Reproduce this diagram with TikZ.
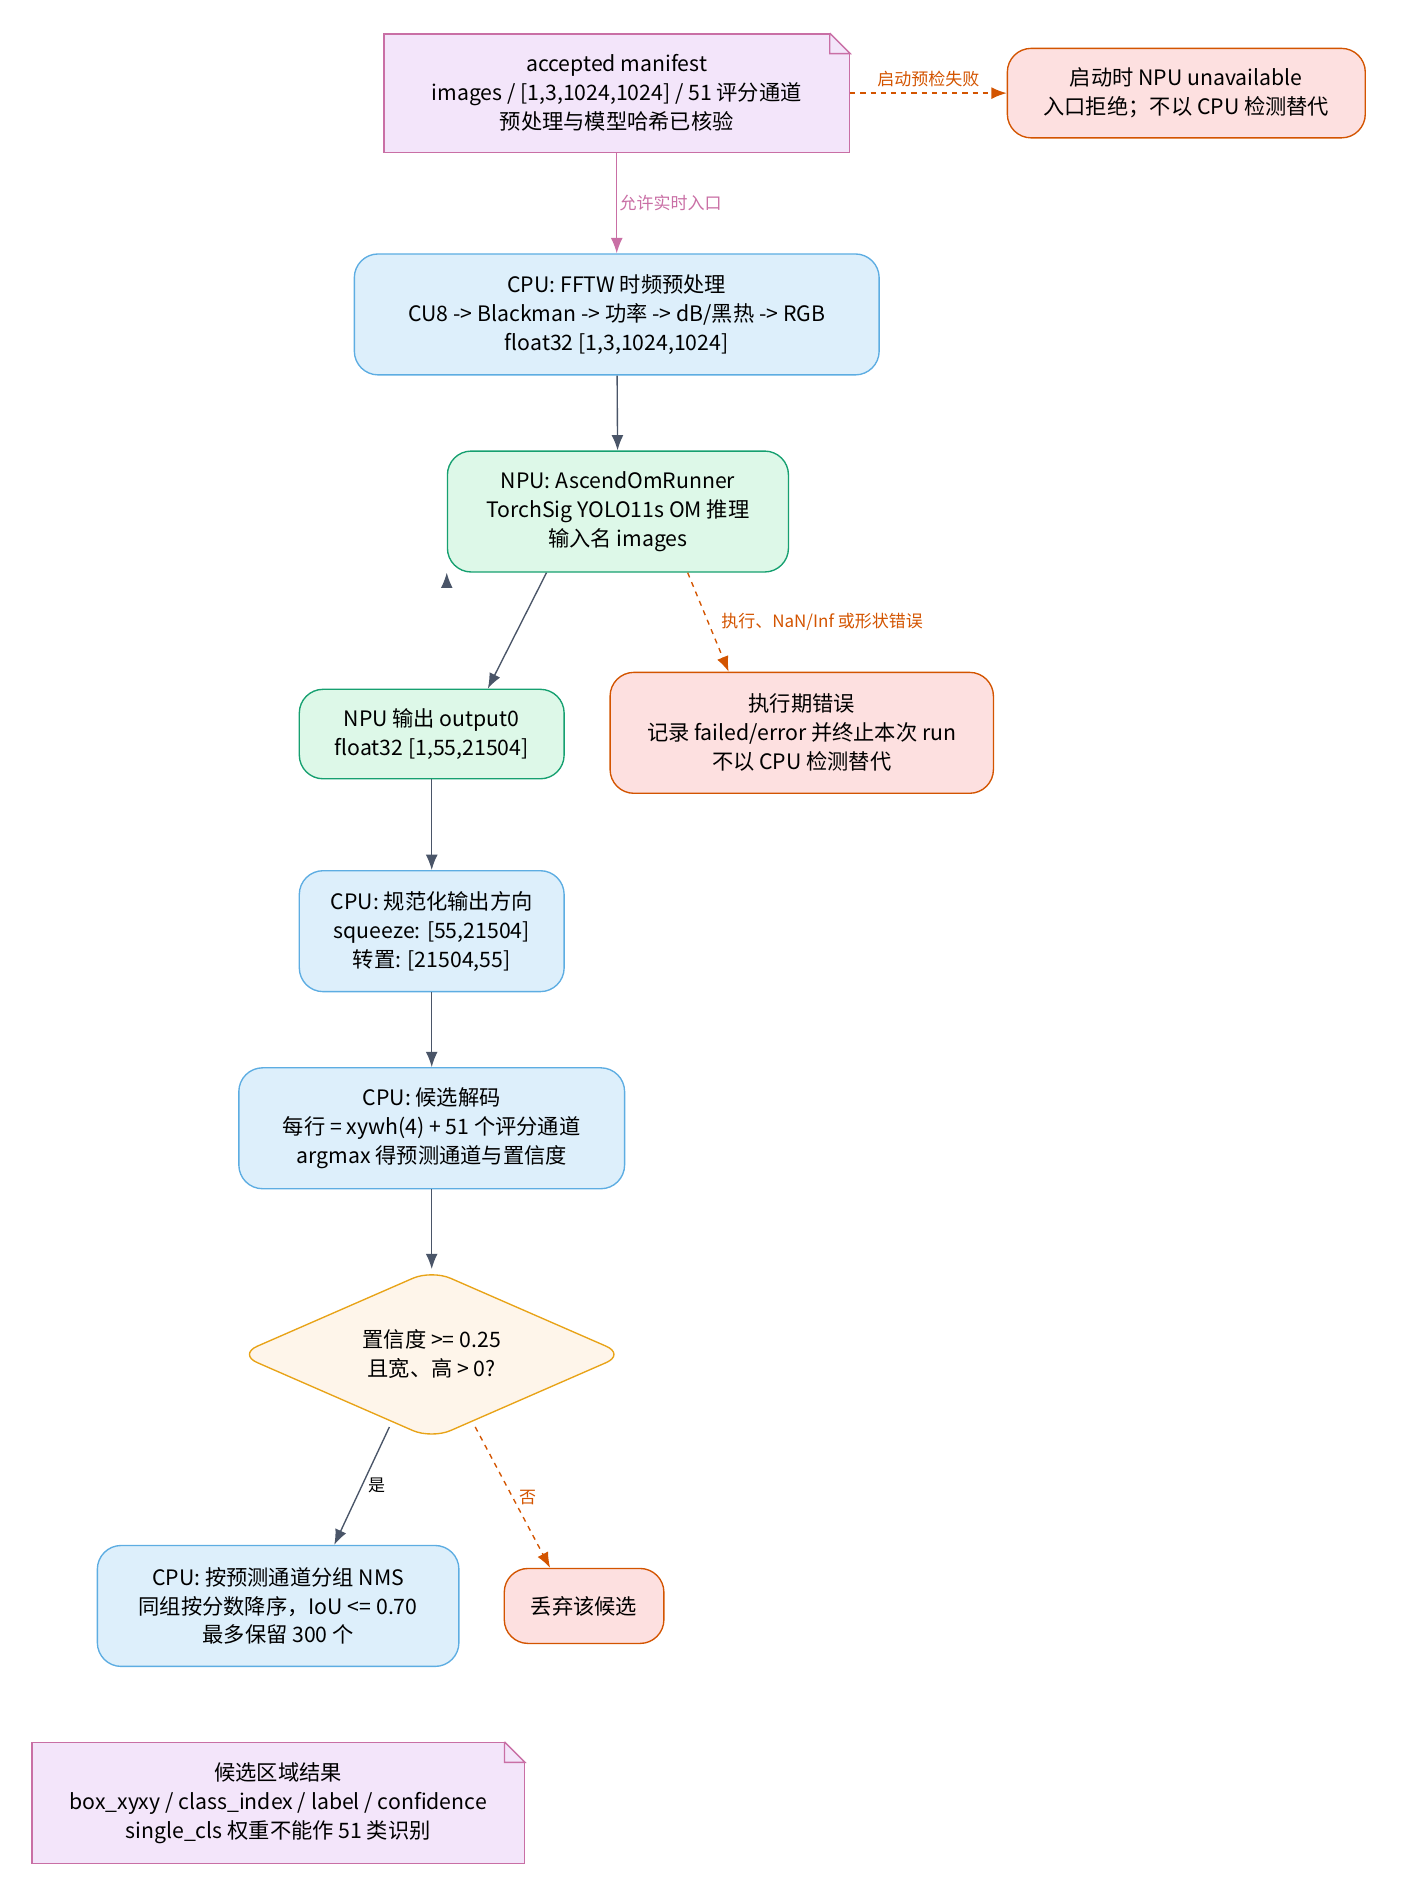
\documentclass[tikz,border=0pt]{standalone}
\usepackage{fontspec}
\setmainfont{Noto Sans CJK SC}
\usetikzlibrary{positioning,arrows.meta,shapes.geometric}
\definecolor{notefill}{HTML}{F3E5FA}
\definecolor{notedraw}{HTML}{C96FA5}
\definecolor{errfill}{HTML}{FDE0E0}
\definecolor{errdraw}{HTML}{D35400}
\definecolor{cpufill}{HTML}{DDEFFB}
\definecolor{cpudraw}{HTML}{5DADE2}
\definecolor{npufill}{HTML}{DDF8E8}
\definecolor{npudraw}{HTML}{16A070}
\definecolor{decfill}{HTML}{FEF5EA}
\definecolor{decdraw}{HTML}{E8A317}
\definecolor{flow}{HTML}{4A5568}
\tikzset{
  box/.style={rectangle, rounded corners=14pt, thick, align=center,
    font=\fontsize{12.5}{17}\selectfont, inner sep=0pt},
  cpu/.style={box, fill=cpufill, draw=cpudraw},
  npu/.style={box, fill=npufill, draw=npudraw},
  err/.style={box, fill=errfill, draw=errdraw},
  note/.style={box, rounded corners=0pt, fill=notefill, draw=notedraw},
  check/.style={diamond, rounded corners=12pt, thick, fill=decfill, draw=decdraw,
    align=center, aspect=2.3, inner sep=0pt, font=\fontsize{12.5}{17}\selectfont},
  go/.style={thick, draw=flow, -{Latex[length=9pt,width=7pt]}},
  fail/.style={thick, draw=errdraw, dashed, -{Latex[length=9pt,width=7pt]}},
  lbl/.style={font=\fontsize{10}{12}\selectfont}
}
\newcommand{\fold}[1]{%
  \fill[white] ([xshift=-12pt]#1.north east) -- (#1.north east) -- ([yshift=-12pt]#1.north east) -- cycle;
  \draw[thick, notedraw] ([xshift=-12pt]#1.north east) -- ([yshift=-12pt]#1.north east)
    -- ++(-12pt,0) -- ([xshift=-12pt]#1.north east);}
\begin{document}
\begin{tikzpicture}[x=0.025cm, y=-0.025cm]
\useasboundingbox (0,0) rectangle (1160,1572);

\node[note, minimum width=385*0.025cm, minimum height=98*0.025cm] (manifest) at (510,77)
  {accepted manifest\\images / [1,3,1024,1024] / 51 评分通道\\预处理与模型哈希已核验};
\fold{manifest}
\node[err, minimum width=296*0.025cm, minimum height=74*0.025cm] (unavail) at (981,77)
  {启动时 NPU unavailable\\入口拒绝；不以 CPU 检测替代};
\node[cpu, minimum width=434*0.025cm, minimum height=100*0.025cm] (fftw) at (510,260)
  {CPU: FFTW 时频预处理\\CU8 -> Blackman -> 功率 -> dB/黑热 -> RGB\\float32 [1,3,1024,1024]};
\node[npu, minimum width=282*0.025cm, minimum height=100*0.025cm] (runner) at (511,423)
  {NPU: AscendOmRunner\\TorchSig YOLO11s OM 推理\\输入名 images};
\node[npu, minimum width=219*0.025cm, minimum height=74*0.025cm] (output) at (357,607)
  {NPU 输出 output0\\float32 [1,55,21504]};
\node[err, minimum width=317*0.025cm, minimum height=100*0.025cm] (runerr) at (663,606)
  {执行期错误\\记录 failed/error 并终止本次 run\\不以 CPU 检测替代};
\node[cpu, minimum width=219*0.025cm, minimum height=100*0.025cm] (norm) at (357,770)
  {CPU: 规范化输出方向\\squeeze: [55,21504]\\转置: [21504,55]};
\node[cpu, minimum width=319*0.025cm, minimum height=100*0.025cm] (decode) at (357,933)
  {CPU: 候选解码\\每行 = xywh(4) + 51 个评分通道\\argmax 得预测通道与置信度};
\node[check, minimum width=320*0.025cm, minimum height=140*0.025cm] (thresh) at (357,1120)
  {置信度 >= 0.25\\且宽、高 > 0?};
\node[cpu, minimum width=299*0.025cm, minimum height=100*0.025cm] (nms) at (230,1328)
  {CPU: 按预测通道分组 NMS\\同组按分数降序，IoU <= 0.70\\最多保留 300 个};
\node[err, minimum width=132*0.025cm, minimum height=62*0.025cm] (drop) at (483,1328)
  {丢弃该候选};
\node[note, minimum width=407*0.025cm, minimum height=100*0.025cm] (result) at (230,1491)
  {候选区域结果\\box\_xyxy / class\_index / label / confidence\\single\_cls 权重不能作 51 类识别};
\fold{result}

% connectors
\draw[fail] (manifest) -- node[lbl, above, text=errdraw] {启动预检失败} (unavail);
\draw[go, draw=notedraw] (manifest) -- node[lbl, right, text=notedraw, xshift=-2pt] {允许实时入口} (fftw);
\draw[go] (fftw) -- (runner);
\draw[go] (runner.south west) ++(99pt*0.0352/0.0352*0,0) ;
\draw[go] ([xshift=-42pt]runner.south) -- ([xshift=33pt]output.north);
\draw[fail] ([xshift=41pt]runner.south) -- node[lbl, right, text=errdraw, xshift=4pt] {执行、NaN/Inf 或形状错误} ([xshift=-43pt]runerr.north);
\draw[go] (output) -- (norm);
\draw[go] (norm) -- (decode);
\draw[go] (decode) -- (thresh);
\draw[go] (322,1180) -- node[lbl, right] {是} ([xshift=33pt]nms.north);
\draw[fail] (393,1180) -- node[lbl, right, text=errdraw] {否} ([xshift=-20pt]drop.north);
\end{tikzpicture}
\end{document}
